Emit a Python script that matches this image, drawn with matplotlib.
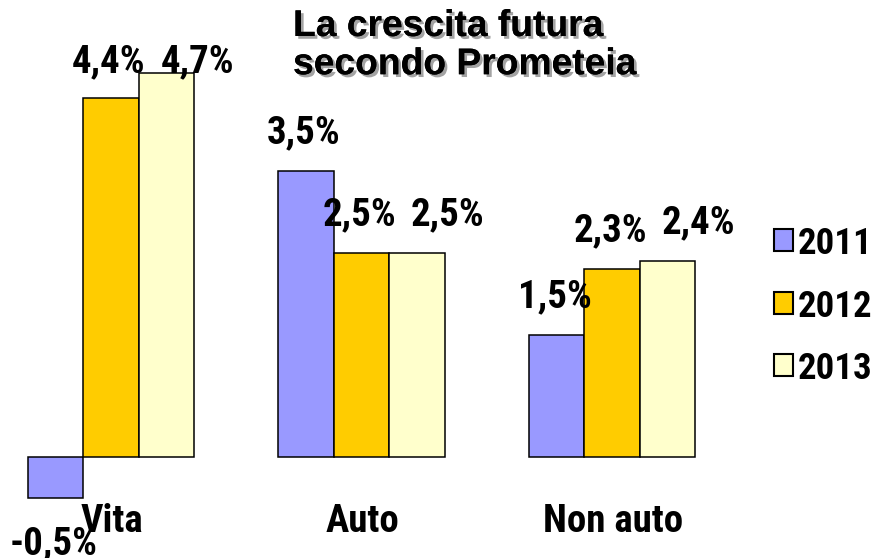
import matplotlib
matplotlib.use("Agg")
import matplotlib.pyplot as plt
import matplotlib.patheffects as pe
from matplotlib import font_manager as fm
from matplotlib.patches import Rectangle
import numpy as np

categories = ["Vita", "Auto", "Non auto"]
years = ["2011", "2012", "2013"]
v2011 = [-0.5, 3.5, 1.5]
v2012 = [4.4, 2.5, 2.3]
v2013 = [4.7, 2.5, 2.4]
labels2011 = ["-0,5%", "3,5%", "1,5%"]
labels2012 = ["4,4%", "2,5%", "2,3%"]
labels2013 = ["4,7%", "2,5%", "2,4%"]
title = "La crescita futura\nsecondo Prometeia"

colors = ["#9999FF", "#FFCC00", "#FFFFCC"]

# find a condensed bold font if one exists
cand = None
for f in fm.fontManager.ttflist:
    n = (f.name + " " + f.fname).lower()
    if ("narrow" in n or "condensed" in n) and f.weight in ("bold", 700) and "oblique" not in n and "italic" not in n:
        cand = f.fname
        if "liberation" in n:
            break
if cand:
    nfp = fm.FontProperties(fname=cand, size=28)
    lfp = fm.FontProperties(fname=cand, size=26.5)
else:
    nfp = fm.FontProperties(family="Liberation Sans", weight="bold", size=24)
    lfp = fm.FontProperties(family="Liberation Sans", weight="bold", size=23)

fig = plt.figure(figsize=(8.74, 5.58), dpi=100)
ax = fig.add_axes([0, 0, 1, 1])
ax.set_xlim(-0.443, 3.046)
ax.set_ylim(-1.238, 5.600)
ax.axis("off")

x = np.arange(len(categories))
w = 0.2216
series = [v2011, v2012, v2013]
lab = [labels2011, labels2012, labels2013]
xoff = [-2, -2, 31]
for k, (vals, col) in enumerate(zip(series, colors)):
    xs = x + (k - 1) * w
    ax.bar(xs, vals, width=w, color=col, edgecolor="black", linewidth=1.1, zorder=2)
    for xi, v, t in zip(xs, vals, lab[k]):
        if v >= 0:
            yb = min(v + 0.34, 4.71)
        else:
            yb = v - 0.69
        ax.annotate(t, (xi, yb), xytext=(xoff[k], 0), textcoords="offset pixels",
                    ha="center", va="baseline", fontproperties=nfp, zorder=5)

for xi, c in zip(x, categories):
    ax.text(xi + 0.005, -0.92, c, ha="center", va="baseline", fontproperties=nfp, zorder=5)

# title
fig.text(293 / 874, 1 - 9 / 558, title, ha="left", va="top", fontsize=26.8,
         fontweight="bold", family=["Liberation Sans", "DejaVu Sans"], linespacing=1.12,
         path_effects=[pe.withSimplePatchShadow(offset=(2, -2), shadow_rgbFace="#999999", alpha=0.9),
                       pe.Normal()])

# legend
ys = [240, 303, 365]
for yy, col, yr in zip(ys, colors, years):
    fig.patches.append(Rectangle((774 / 874, 1 - (yy + 11) / 558), 19 / 874, 22 / 558,
                                 transform=fig.transFigure, facecolor=col,
                                 edgecolor="black", linewidth=1.5))
    fig.text(798 / 874, 1 - yy / 558, yr, ha="left", va="center_baseline", fontproperties=lfp)

fig.savefig("out.png", dpi=100)
